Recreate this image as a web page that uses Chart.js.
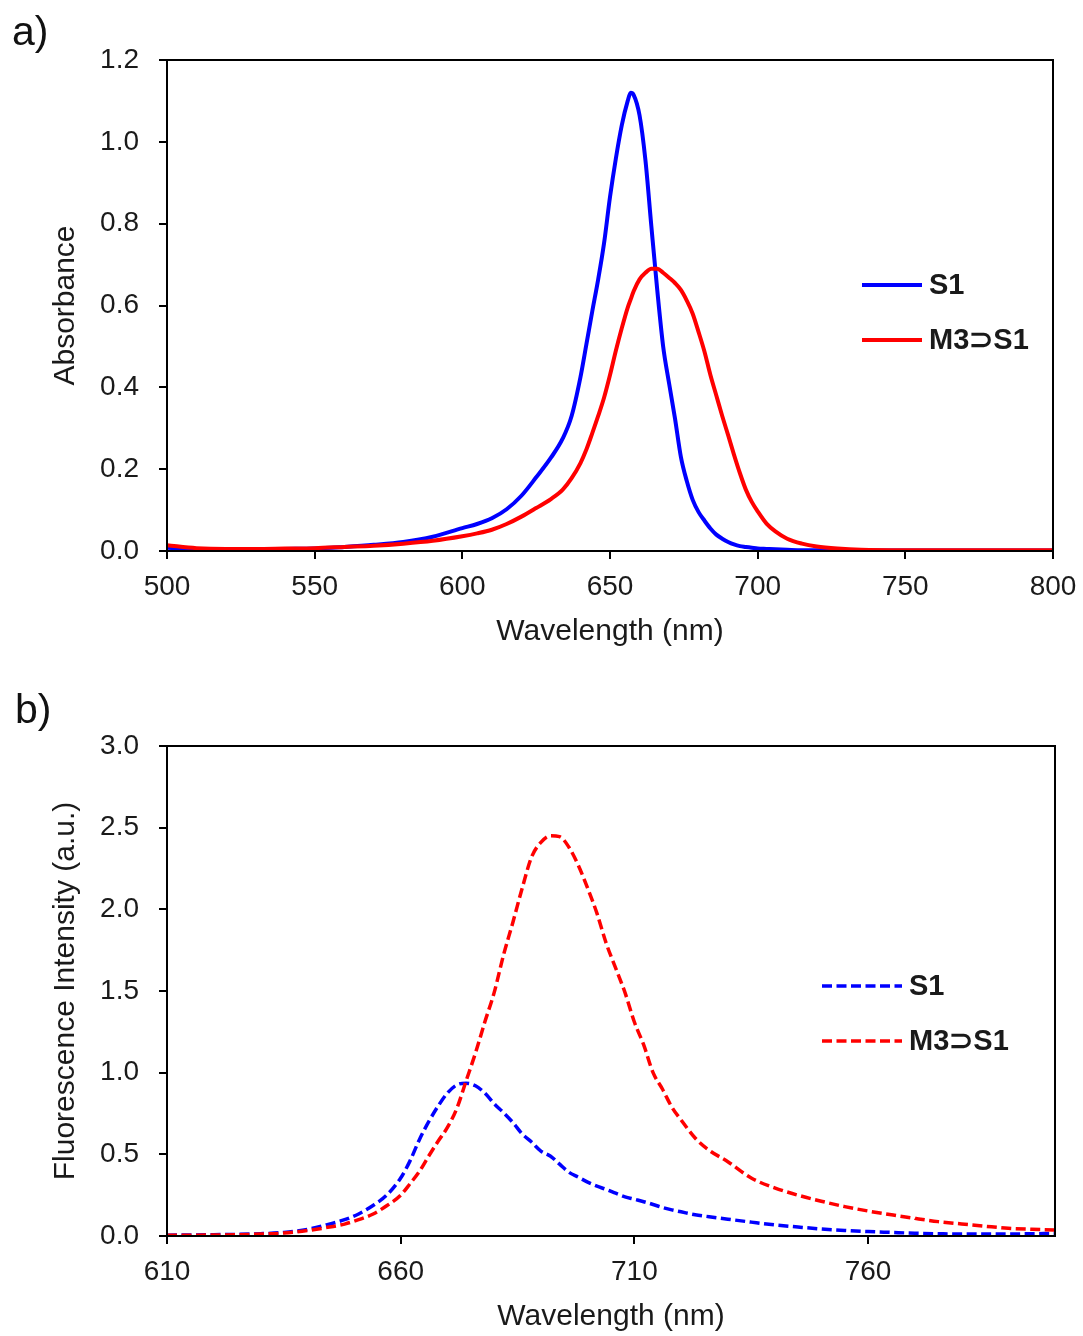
<!DOCTYPE html>
<html>
<head>
<meta charset="utf-8">
<script src="https://cdn.jsdelivr.net/npm/chart.js@4.4.1/dist/chart.umd.min.js"></script>
<style>
  body { margin: 0; background: #fff; }
  #wrap { position: relative; width: 1083px; height: 1336px; }
  canvas { position: absolute; left: 0; }
  #chartA { top: 0; }
  #chartB { top: 668px; }
  .panel { position: absolute; font: 41px "Liberation Sans", Arial, sans-serif; line-height: 41px; color: #111; }
</style>
</head>
<body>
<div id="wrap">
  <canvas id="chartA" width="1083" height="668"></canvas>
  <canvas id="chartB" width="1083" height="668"></canvas>
  <div class="panel" style="left:12px;top:11px">a)</div>
  <div class="panel" style="left:15px;top:689px">b)</div>
</div>
<script>
// a) absorbance
var absNm = [500, 510, 520, 530, 540, 550, 560, 570, 580, 590, 600, 605, 610, 615, 620, 625, 630, 634, 637, 640,
  642, 644, 646, 648, 650, 652, 654, 656, 657, 658, 660, 662, 664, 666, 668, 670, 672, 674, 676, 678,
  680, 682, 684, 686, 688, 690, 692, 694, 696, 698, 700, 703, 706, 710, 715, 720, 727, 735, 750, 775, 800];
var absS1 = [0.008, 0.005, 0.004, 0.004, 0.005, 0.006, 0.010, 0.015, 0.022, 0.035, 0.056, 0.066, 0.080, 0.102, 0.135, 0.180, 0.228, 0.275, 0.33, 0.425,
  0.505, 0.586, 0.664, 0.753, 0.865, 0.96, 1.041, 1.10, 1.12, 1.115, 1.065, 0.955, 0.794, 0.638, 0.50, 0.41, 0.324, 0.23, 0.171, 0.125,
  0.095, 0.074, 0.055, 0.040, 0.030, 0.022, 0.016, 0.012, 0.010, 0.008, 0.006, 0.005, 0.004, 0.003, 0.002, 0.002, 0.002, 0.001, 0.001, 0.001, 0.001];
var absM3S1 = [0.014, 0.007, 0.005, 0.005, 0.006, 0.007, 0.010, 0.013, 0.018, 0.025, 0.036, 0.043, 0.052, 0.066, 0.084, 0.105, 0.127, 0.15, 0.178, 0.215,
  0.248, 0.288, 0.33, 0.375, 0.43, 0.49, 0.545, 0.595, 0.615, 0.635, 0.664, 0.68, 0.69, 0.69, 0.68, 0.668, 0.655, 0.638, 0.612, 0.58,
  0.535, 0.487, 0.43, 0.38, 0.33, 0.283, 0.235, 0.19, 0.15, 0.12, 0.097, 0.067, 0.048, 0.030, 0.018, 0.011, 0.006, 0.003, 0.002, 0.002, 0.002];
var absTicks = [500, 550, 600, 650, 700, 750, 800];

// b) fluorescence
var flNm = [610, 615, 620, 625, 630, 635, 640, 644, 648, 651, 654, 657, 660, 662, 664, 666, 668, 670, 672, 674,
  676, 678, 680, 682, 684, 686, 688, 690, 692, 694, 696, 698, 700, 702, 704, 706, 708, 710, 712, 714,
  716, 718, 720, 723, 726, 730, 735, 740, 745, 750, 755, 760, 765, 770, 775, 780, 785, 790, 795, 800];
var flS1 = [0.005, 0.006, 0.008, 0.010, 0.014, 0.022, 0.040, 0.067, 0.100, 0.135, 0.185, 0.25, 0.355, 0.46, 0.59, 0.70, 0.795, 0.875, 0.925, 0.935,
  0.92, 0.875, 0.81, 0.755, 0.695, 0.625, 0.575, 0.52, 0.49, 0.44, 0.39, 0.36, 0.33, 0.305, 0.285, 0.262, 0.24, 0.225, 0.21, 0.193,
  0.175, 0.16, 0.148, 0.13, 0.118, 0.103, 0.085, 0.068, 0.055, 0.043, 0.034, 0.027, 0.022, 0.017, 0.014, 0.012, 0.012, 0.012, 0.014, 0.015];
var flM3S1 = [0.004, 0.005, 0.006, 0.008, 0.012, 0.018, 0.033, 0.051, 0.073, 0.10, 0.133, 0.185, 0.25, 0.32, 0.395, 0.49, 0.58, 0.665, 0.78, 0.95,
  1.12, 1.31, 1.49, 1.72, 1.92, 2.13, 2.32, 2.41, 2.45, 2.445, 2.38, 2.27, 2.13, 1.975, 1.79, 1.64, 1.49, 1.31, 1.17, 1.0,
  0.9, 0.79, 0.71, 0.60, 0.525, 0.455, 0.355, 0.295, 0.25, 0.213, 0.18, 0.153, 0.13, 0.108, 0.088, 0.074, 0.06, 0.047, 0.041, 0.037];
var flTicks = [610, 660, 710, 760];

var FONT = '"Liberation Sans", Arial, Helvetica, sans-serif';
var INK = '#1a1a1a';

function pts(xs, ys) {
  return xs.map(function (x, i) { return { x: x, y: ys[i] }; });
}

// frame around the plot area
var boxPlugin = {
  id: 'plotBox',
  afterDatasetsDraw: function (chart) {
    var a = chart.chartArea, ctx = chart.ctx;
    ctx.save();
    ctx.strokeStyle = '#000';
    ctx.lineWidth = 2;
    ctx.strokeRect(a.left, a.top, a.right - a.left, a.bottom - a.top);
    ctx.restore();
  }
};

function legendPlugin(x, y, len, row) {
  return {
    id: 'spectraLegend',
    afterDraw: function (chart) {
      var ctx = chart.ctx;
      ctx.save();
      ctx.font = 'bold 29px ' + FONT;
      ctx.textBaseline = 'middle';
      chart.data.datasets.forEach(function (ds, i) {
        var yy = y + i * row;
        ctx.strokeStyle = ds.borderColor;
        ctx.lineWidth = ds.borderWidth;
        ctx.setLineDash(ds.borderDash || []);
        ctx.beginPath();
        ctx.moveTo(x, yy);
        ctx.lineTo(x + len, yy);
        ctx.stroke();
        ctx.setLineDash([]);
        ctx.fillStyle = INK;
        ctx.fillText(ds.label, x + len + 7, yy + 1);
      });
      ctx.restore();
    }
  };
}

function xAxis(min, max, tickList, height, titlePad) {
  return {
    type: 'linear', min: min, max: max,
    afterBuildTicks: function (s) { s.ticks = tickList.map(function (v) { return { value: v }; }); },
    ticks: { autoSkip: false, maxRotation: 0, color: INK, font: { family: FONT, size: 28 }, padding: 11,
      callback: function (v) { return String(v); } },
    grid: { drawOnChartArea: false, drawTicks: true, tickLength: 8, color: '#000', lineWidth: 2 },
    border: { display: true, color: '#000', width: 2 },
    title: { display: true, text: 'Wavelength (nm)', color: INK, font: { family: FONT, size: 30 }, padding: { top: 0, bottom: titlePad } },
    afterFit: function (s) {
      s.height = height;
      // end labels may overhang the frame, as in the original
      s.paddingLeft = 0;
      s.paddingRight = 0;
    }
  };
}

function yAxis(max, step, title) {
  return {
    min: 0, max: max,
    ticks: { stepSize: step, color: INK, font: { family: FONT, size: 28 }, padding: 20,
      callback: function (v) { return v.toFixed(1); } },
    grid: { drawOnChartArea: false, drawTicks: true, tickLength: 8, color: '#000', lineWidth: 2 },
    border: { display: true, color: '#000', width: 2 },
    title: { display: true, text: title, color: INK, font: { family: FONT, size: 30 }, padding: { top: 48, bottom: 0 } },
    afterFit: function (s) { s.width = 167; }
  };
}

function lineSet(label, data, color, width, dash, order) {
  return {
    label: label, data: data, borderColor: color, borderWidth: width, borderDash: dash,
    pointRadius: 0, fill: false, cubicInterpolationMode: 'monotone', order: order
  };
}

new Chart(document.getElementById('chartA'), {
  type: 'line',
  data: {
    datasets: [
      lineSet('S1', pts(absNm, absS1), '#0000ff', 4, [], 1),
      lineSet('M3\u2283S1', pts(absNm, absM3S1), '#ff0000', 4, [], 0)
    ]
  },
  options: {
    responsive: false,
    animation: false,
    layout: { padding: { top: 60, right: 30, left: 0, bottom: 0 } },
    plugins: { legend: { display: false }, tooltip: { enabled: false } },
    scales: {
      x: xAxis(500, 800, absTicks, 117, 18),
      y: yAxis(1.2, 0.2, 'Absorbance')
    }
  },
  plugins: [boxPlugin, legendPlugin(862, 285, 60, 55)]
});

new Chart(document.getElementById('chartB'), {
  type: 'line',
  data: {
    datasets: [
      lineSet('S1', pts(flNm, flS1), '#0000ff', 3.5, [10, 4.5], 1),
      lineSet('M3\u2283S1', pts(flNm, flM3S1), '#ff0000', 3.5, [10, 4.5], 0)
    ]
  },
  options: {
    responsive: false,
    animation: false,
    layout: { padding: { top: 78, right: 28, left: 0, bottom: 0 } },
    plugins: { legend: { display: false }, tooltip: { enabled: false } },
    scales: {
      x: xAxis(610, 800, flTicks, 100, 1),
      y: yAxis(3.0, 0.5, 'Fluorescence Intensity (a.u.)')
    }
  },
  plugins: [boxPlugin, legendPlugin(822, 318, 80, 55)]
});
</script>
</body>
</html>
